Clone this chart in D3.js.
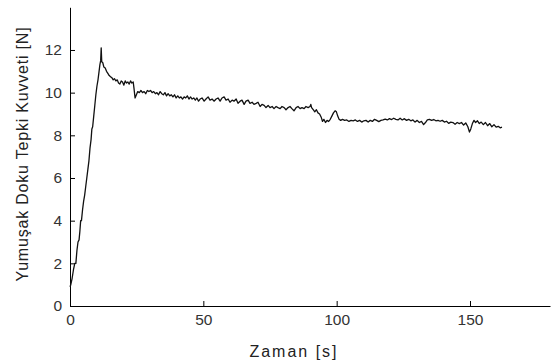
<!DOCTYPE html>
<html><head><meta charset="utf-8">
<script src="https://cdn.jsdelivr.net/npm/d3@7"></script>
<style>
body{margin:0;background:#fff;}
svg{display:block;}
text{font-family:"Liberation Sans",Arial,sans-serif;}
</style></head>
<body><svg id="c" width="556" height="360"></svg>
<script>
const xTicks=[0,50,100,150];
const yTicks=[0,2,4,6,8,10,12];
const xLabel="Zaman [s]";
const yLabel="Yumuşak Doku Tepki Kuvveti [N]";
const time=[0,0.3,0.8,1.3,1.8,2.2,2.6,3.0,3.4,3.7,4.0,4.3,4.7,5.1,5.5,5.9,6.3,6.7,7.1,7.5,7.9,8.2,8.5,8.9,9.3,9.7,10.1,10.5,10.9,11.2,11.5,11.7,11.9,12.3,12.7,13.2,13.7,14.2,14.7,15.2,15.7,16.2,16.7,17.2,17.7,18.2,18.7,19.2,19.7,20.2,20.7,21.2,21.7,22.2,22.7,23.2,23.7,24.0,24.4,24.9,25.4,26.0,26.6,27.2,27.8,28.4,29.0,29.6,30.2,30.8,31.4,32.0,32.6,33.2,33.8,34.4,35.0,35.6,36.2,36.8,37.4,38.0,38.6,39.2,39.8,40.4,41.0,41.6,42.2,42.8,43.4,44.0,44.6,45.2,45.8,46.4,47.0,47.6,48.2,48.8,49.5,50.3,51.0,51.8,52.5,53.3,54.0,54.8,55.5,56.3,57.0,57.8,58.5,59.3,60.0,60.8,61.5,62.3,63.0,63.8,64.5,65.3,66.0,66.8,67.5,68.3,69.0,69.8,70.5,71.3,72.0,72.8,73.5,74.3,75.0,75.8,76.5,77.3,78.0,78.8,79.5,80.3,81.0,81.8,82.5,83.2,84.0,84.8,85.5,86.3,87.0,87.8,88.5,89.3,90.0,90.3,90.6,91.2,91.8,92.4,93.0,93.6,94.2,94.7,95.2,95.8,96.4,97.0,97.6,98.2,98.8,99.4,99.9,100.4,100.9,101.5,102.2,103.0,103.8,104.6,105.4,106.2,107.0,107.8,108.6,109.4,110.2,111.0,111.8,112.6,113.4,114.2,115.0,115.8,116.6,117.4,118.2,119.0,119.8,120.6,121.4,122.2,123.0,123.8,124.6,125.4,126.2,127.0,127.8,128.6,129.4,130.2,131.0,131.8,132.6,133.3,134.0,134.8,135.6,136.4,137.2,138.0,138.8,139.6,140.4,141.2,142.0,142.8,143.6,144.4,145.2,146.0,146.8,147.6,148.4,149.2,149.8,150.3,150.9,151.5,152.1,152.8,153.5,154.2,155.0,155.8,156.6,157.4,158.2,159.0,159.8,160.6,161.3,162.0];
const force=[0.9,1.0,1.3,1.7,2.0,2.0,2.6,3.0,3.1,3.5,4.0,4.0,4.5,4.9,5.2,5.6,6.0,6.4,6.8,7.4,7.8,8.3,8.4,8.9,9.4,9.9,10.3,10.6,11.0,11.3,11.5,12.1,11.45,11.4,11.2,11.15,11.0,10.9,10.8,10.75,10.7,10.6,10.65,10.55,10.6,10.45,10.4,10.55,10.5,10.35,10.55,10.45,10.5,10.4,10.55,10.45,10.5,10.2,9.75,9.9,10.05,10.0,10.1,10.0,10.05,9.95,10.1,10.05,10.1,10.0,10.05,9.95,10.0,9.9,10.05,9.95,9.9,10.0,9.85,9.95,9.85,9.9,9.8,9.9,9.75,9.85,9.75,9.8,9.7,9.8,9.75,9.85,9.7,9.8,9.7,9.75,9.65,9.75,9.6,9.7,9.75,9.6,9.7,9.8,9.65,9.7,9.6,9.7,9.75,9.6,9.75,9.8,9.65,9.7,9.55,9.65,9.6,9.7,9.5,9.6,9.65,9.45,9.6,9.65,9.5,9.55,9.45,9.5,9.55,9.35,9.45,9.4,9.3,9.4,9.3,9.35,9.25,9.35,9.3,9.25,9.35,9.3,9.2,9.3,9.35,9.25,9.15,9.3,9.35,9.25,9.3,9.25,9.35,9.3,9.35,9.45,9.3,9.2,9.1,9.2,9.05,9.0,8.85,8.65,8.75,8.6,8.7,8.65,8.75,8.9,9.05,9.15,9.1,8.9,8.75,8.7,8.75,8.7,8.72,8.65,8.7,8.68,8.72,8.65,8.7,8.62,8.68,8.7,8.62,8.7,8.65,8.75,8.7,8.64,8.7,8.72,8.76,8.72,8.78,8.74,8.8,8.75,8.72,8.8,8.72,8.78,8.7,8.75,8.68,8.72,8.62,8.7,8.6,8.65,8.5,8.6,8.72,8.75,8.7,8.74,8.68,8.7,8.66,8.7,8.62,8.66,8.56,8.62,8.6,8.52,8.6,8.55,8.6,8.48,8.58,8.4,8.15,8.3,8.55,8.7,8.6,8.68,8.55,8.62,8.5,8.6,8.45,8.55,8.4,8.5,8.38,8.42,8.35,8.38];

const svg=d3.select("#c");
const x=d3.scaleLinear().domain([0,180]).range([70,550]);
const y=d3.scaleLinear().domain([0,14]).range([306,7.3]);

const xa=svg.append("g").attr("transform","translate(0,306)")
  .call(d3.axisBottom(x).tickValues(xTicks).tickSizeInner(-5).tickSizeOuter(0).tickPadding(8));
const ya=svg.append("g").attr("transform","translate(70,0)")
  .call(d3.axisLeft(y).tickValues(yTicks).tickSizeInner(-5).tickSizeOuter(0).tickPadding(8));
[xa,ya].forEach(g=>{
  g.selectAll("path,line").attr("stroke","#000").attr("stroke-width",1);
  g.selectAll("text").attr("font-size","15.5px").attr("fill","#333").attr("font-family","'Liberation Sans',Arial,sans-serif");
});

const line=d3.line().x((d,i)=>x(time[i])).y(d=>y(d));
svg.append("path").datum(force).attr("d",line)
  .attr("fill","none").attr("stroke","#111").attr("stroke-width",1.3).attr("stroke-linejoin","round");

svg.append("text").attr("x",294).attr("y",357).attr("text-anchor","middle")
  .attr("font-size","16px").attr("letter-spacing","2px").attr("fill","#222").text(xLabel);
svg.append("text").attr("transform","translate(28,154) rotate(-90)").attr("text-anchor","middle")
  .attr("font-size","16px").attr("letter-spacing","0.8px").attr("fill","#222").text(yLabel);
</script></body></html>
